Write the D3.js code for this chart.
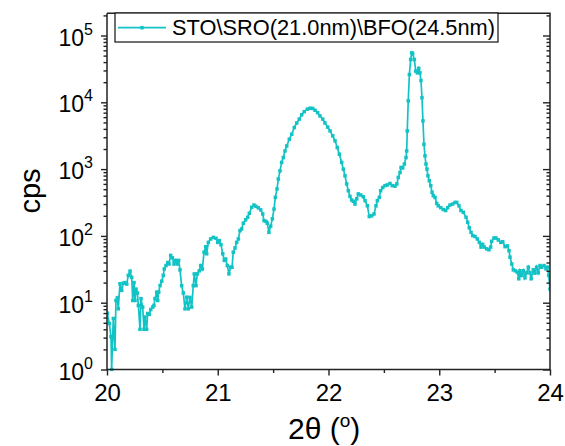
<!DOCTYPE html>
<html><head><meta charset="utf-8">
<script src="https://cdn.jsdelivr.net/npm/d3@7"></script>
<style>body{margin:0;background:#fff}svg{display:block}text{font-family:"Liberation Sans",Arial,sans-serif;fill:#000}</style>
</head><body><svg id="c" width="565" height="446"></svg>
<script>
const seriesName = "STO\\SRO(21.0nm)\\BFO(24.5nm)";
const theta = [20.003,20.021,20.036,20.042,20.051,20.057,20.072,20.081,20.093,20.102,20.117,20.133,20.147,20.163,20.178,20.192,20.208,20.223,20.232,20.244,20.253,20.262,20.274,20.283,20.298,20.307,20.322,20.334,20.343,20.358,20.367,20.382,20.395,20.413,20.424,20.433,20.449,20.458,20.467,20.479,20.494,20.508,20.517,20.533,20.548,20.560,20.575,20.590,20.605,20.620,20.635,20.647,20.659,20.674,20.689,20.704,20.720,20.734,20.749,20.765,20.779,20.788,20.804,20.815,20.833,20.846,20.861,20.876,20.891,20.900,20.915,20.936,20.960,20.984,21.000,21.014,21.029,21.045,21.059,21.072,21.086,21.101,21.117,21.129,21.140,21.156,21.171,21.186,21.201,21.216,21.231,21.252,21.270,21.285,21.307,21.327,21.345,21.366,21.388,21.406,21.418,21.436,21.447,21.462,21.478,21.493,21.508,21.520,21.535,21.547,21.562,21.577,21.592,21.607,21.623,21.646,21.668,21.691,21.713,21.736,21.758,21.781,21.809,21.833,21.857,21.878,21.902,21.923,21.948,21.968,21.993,22.014,22.038,22.059,22.079,22.098,22.119,22.134,22.149,22.164,22.179,22.194,22.209,22.224,22.239,22.255,22.269,22.291,22.314,22.330,22.351,22.368,22.390,22.411,22.429,22.441,22.459,22.471,22.489,22.510,22.531,22.555,22.576,22.600,22.617,22.630,22.646,22.655,22.670,22.685,22.700,22.706,22.711,22.720,22.730,22.742,22.751,22.760,22.775,22.788,22.802,22.815,22.826,22.835,22.844,22.853,22.862,22.871,22.880,22.889,22.898,22.910,22.923,22.935,22.946,22.962,22.977,22.991,23.013,23.037,23.058,23.076,23.097,23.121,23.142,23.158,23.178,23.196,23.217,23.242,23.257,23.271,23.287,23.302,23.323,23.344,23.362,23.377,23.392,23.407,23.428,23.449,23.464,23.473,23.494,23.512,23.533,23.555,23.573,23.594,23.615,23.630,23.639,23.655,23.669,23.687,23.705,23.718,23.729,23.745,23.759,23.774,23.789,23.804,23.819,23.830,23.849,23.864,23.879,23.894,23.910,23.925,23.946,23.964,23.976,23.988,24.000];
const cps = [7,4.9,3.1,1.0,3.0,5.8,2.0,10.8,11.8,8.1,19.2,15.3,19.6,20,19,25.6,29.7,24,10.8,20,10.8,16,14,9.1,4.0,11.5,8.6,4,6.1,4,6.9,6.7,7.9,8.6,9.1,11.5,14.4,10.8,14.4,18.1,21,25.6,32,36,40,38,51,47,38,43,38,43,31,18,14,8.1,12.1,8.1,12,8.6,18,27,18,27,30,36,32,57,69,54,80,90,95,92,80,85,74,54,43,45,36,27,34,34,57,66,80,90,120,127,155,174,190,218,268,290,277,263,245,213,169,165,155,113,140,180,252,377,505,710,940,1260,1490,1870,2220,2800,3330,4190,4900,5600,6500,7250,7900,8150,8100,7600,7000,6250,5600,4900,4250,3730,3150,2650,2100,1670,1260,1000,795,600,475,390,345,330,300,360,425,410,385,337,282,195,200,213,282,337,377,475,530,565,580,610,565,555,600,750,890,1060,1040,1190,1490,1870,3730,10500,26000,43700,55000,53800,43700,29300,27600,32200,27600,21200,11700,5270,2350,1580,1190,1000,795,670,565,450,400,377,307,282,265,248,240,265,290,300,317,317,282,240,226,190,160,132,113,101,98,90,80,68,75,68,64,62,68,83,93,93,87,80,82,69,71,60,48,38,31,30,28.6,22.8,30,25.6,30,23.6,28,34,28,22.8,31,27.7,34,28,36,34,36,32,34,25.6,16];
const xTicks = [20,21,22,23,24];
const xMinor = [20.5,21.5,22.5,23.5];
const yExp = [0,1,2,3,4,5];
const xLabel = "2θ (";
const yLabel = "cps";
const color = "#12c3c6";

const svg = d3.select("#c");
const L=107,R=550,T=13.3,B=369.5;
const x = d3.scaleLinear().domain([20,24]).range([L,R]);
const y = d3.scaleLog().domain([1,2.15e5]).range([B,T]);
const data = theta.map((t,i)=>({t, v:cps[i]}));

const yMinor=[];
yExp.forEach(e=>{for(let k=2;k<=9;k++){const v=k*Math.pow(10,e); if(v<=2.15e5) yMinor.push(v);}});

const ax="#222";
svg.append("defs").append("clipPath").attr("id","cp").append("rect").attr("x",L).attr("y",T).attr("width",R-L).attr("height",B-T+2);
const g=svg.append("g").attr("clip-path","url(#cp)");
g.append("path").datum(data).attr("fill","none").attr("stroke",color).attr("stroke-width",1.7)
 .attr("d",d3.line().x(d=>x(d.t)).y(d=>y(d.v)));
g.selectAll("rect.m").data(data).enter().append("rect").attr("class","m")
 .attr("x",d=>x(d.t)-1.75).attr("y",d=>y(d.v)-1.75).attr("width",3.5).attr("height",3.5).attr("fill",color);

function styleAxis(sel){sel.select(".domain").remove();sel.selectAll("line").attr("stroke",ax).attr("stroke-width",1.4);}
const xa=svg.append("g").attr("transform",`translate(0,${B})`)
 .call(d3.axisBottom(x).tickValues(xTicks).tickSize(6).tickFormat(d3.format("d")));
styleAxis(xa); xa.selectAll("text").attr("font-size",24).attr("dy","0.78em").attr("y",13).style("font-family","Liberation Sans, Arial");
const xm=svg.append("g").attr("transform",`translate(0,${B})`).call(d3.axisBottom(x).tickValues(xMinor).tickSize(3.5).tickFormat(""));
styleAxis(xm);

const ya=svg.append("g").attr("transform",`translate(${L},0)`).call(d3.axisLeft(y).tickValues(yExp.map(e=>Math.pow(10,e))).tickSize(6).tickFormat(""));
styleAxis(ya);
const ym=svg.append("g").attr("transform",`translate(${L},0)`).call(d3.axisLeft(y).tickValues(yMinor).tickSize(3.5).tickFormat(""));
styleAxis(ym);
const yr=svg.append("g").attr("transform",`translate(${R},0)`).call(d3.axisRight(y).tickValues(yExp.map(e=>Math.pow(10,e))).tickSize(-7).tickFormat(""));
styleAxis(yr);
const yrm=svg.append("g").attr("transform",`translate(${R},0)`).call(d3.axisRight(y).tickValues(yMinor).tickSize(-3.5).tickFormat(""));
styleAxis(yrm);

yExp.forEach(e=>{
  svg.append("text").attr("x",84).attr("y",y(Math.pow(10,e))+10).attr("font-size",23).attr("text-anchor","end").text("10");
  svg.append("text").attr("x",84).attr("y",y(Math.pow(10,e))-1).attr("font-size",16).text(e);
});

svg.append("path").attr("d",`M${L},${T}V${B}H${R}V${T}H${L}`).attr("fill","none").attr("stroke",ax).attr("stroke-width",1.5);

const xt=svg.append("text").attr("x",288).attr("y",439).attr("font-size",30);
xt.append("tspan").text(xLabel);
xt.append("tspan").attr("font-size",19).attr("dy",-12).text("o");
xt.append("tspan").attr("dy",12).text(")");
svg.append("text").attr("transform","translate(40,191) rotate(-90)").attr("text-anchor","middle").attr("font-size",29).text(yLabel);

svg.append("rect").attr("x",115).attr("y",13).attr("width",383).attr("height",29).attr("fill","#fff").attr("stroke","#111").attr("stroke-width",1.2);
svg.append("line").attr("x1",118).attr("x2",166).attr("y1",27.7).attr("y2",27.7).attr("stroke",color).attr("stroke-width",1.7);
svg.append("rect").attr("x",140.25).attr("y",25.95).attr("width",3.5).attr("height",3.5).attr("fill",color);
svg.append("text").attr("x",172).attr("y",35.2).attr("font-size",21.8).text(seriesName);
</script></body></html>
